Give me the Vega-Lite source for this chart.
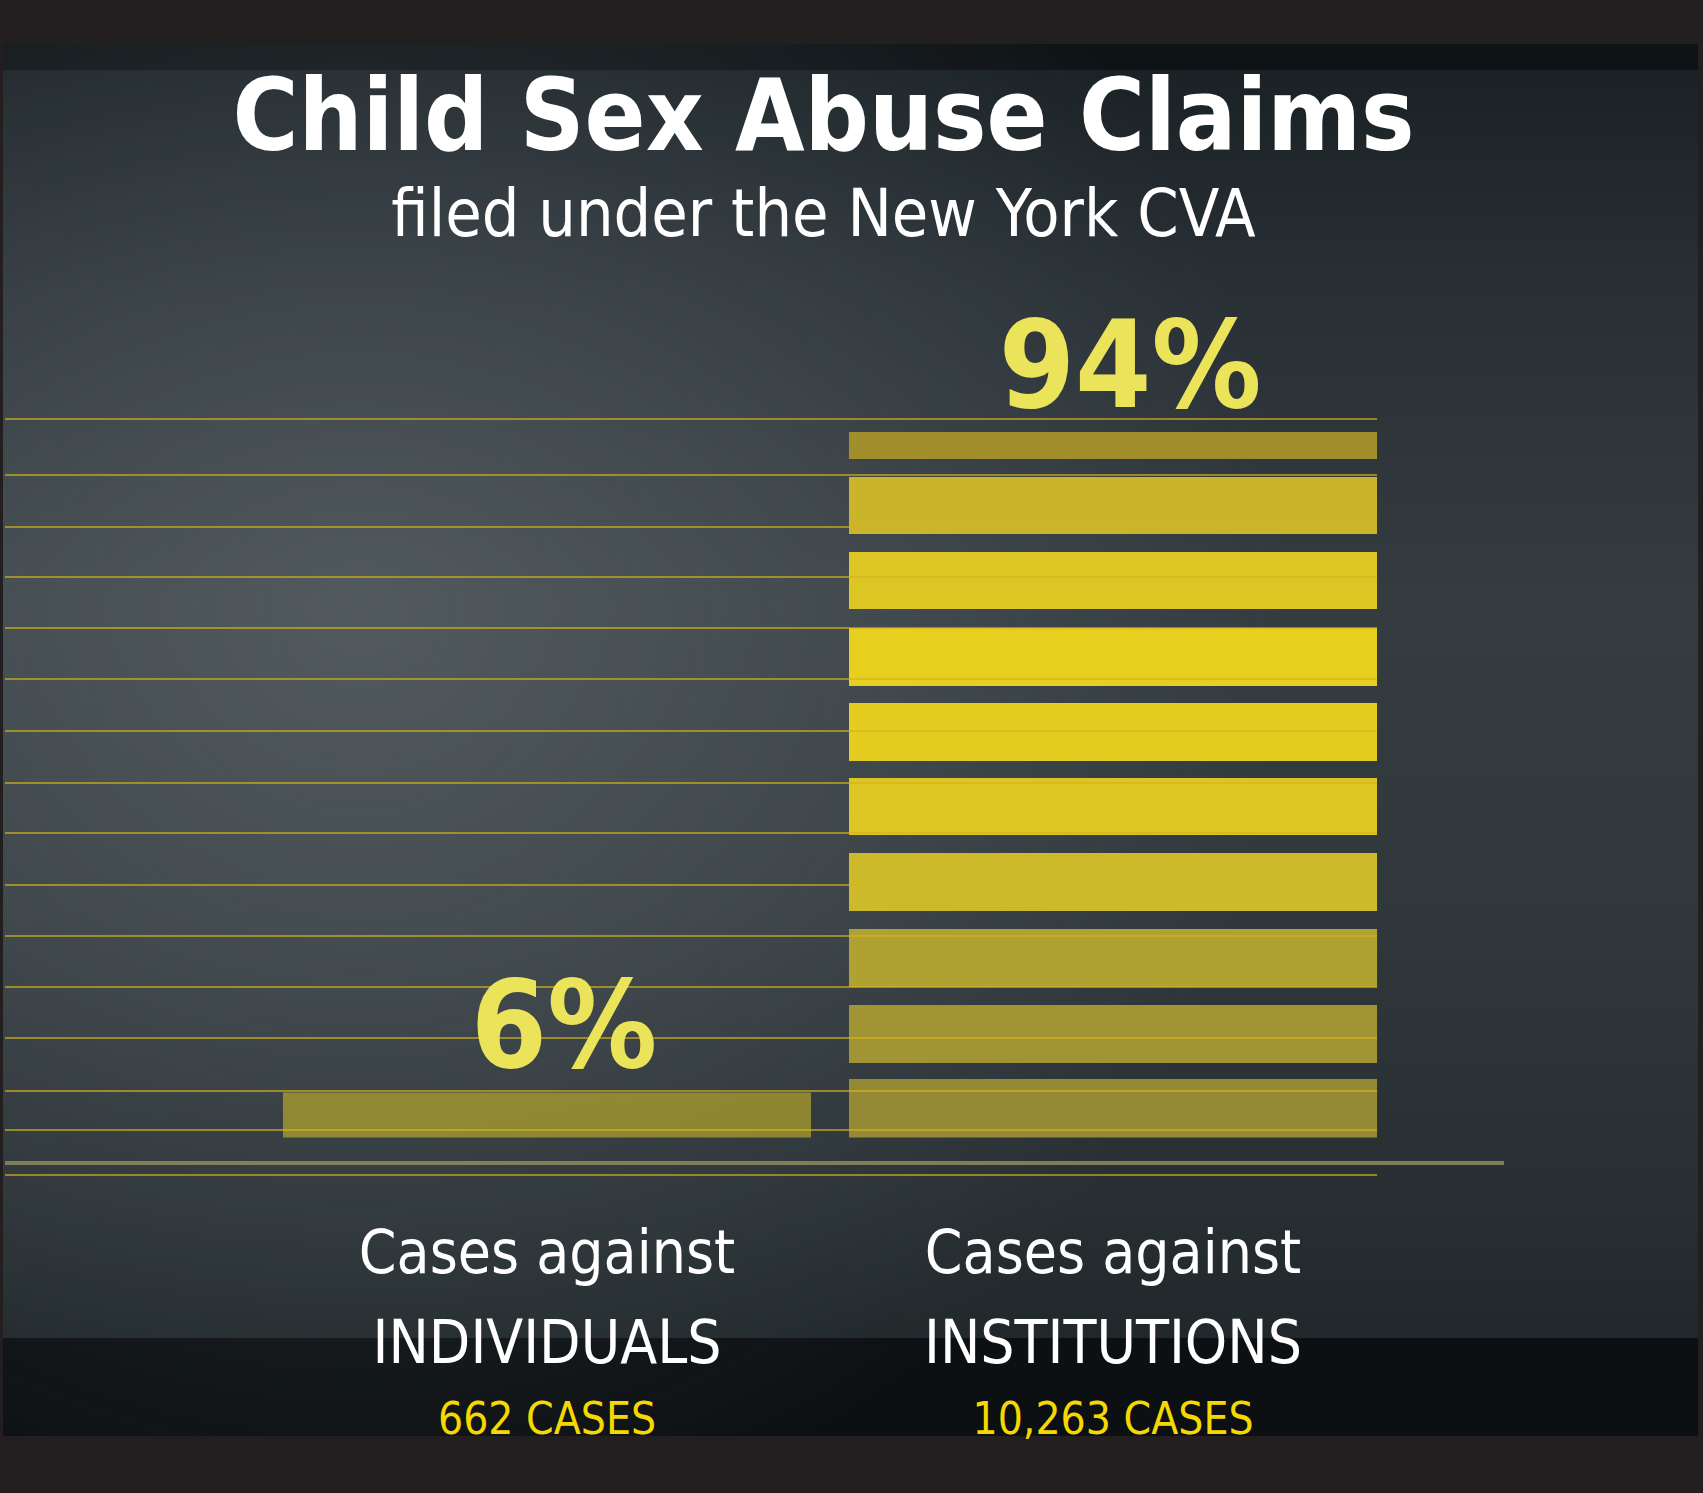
{
  "$schema": "https://vega.github.io/schema/vega-lite/v6.json",
  "width": 1695,
  "height": 1392,
  "autosize": {"type": "none"},
  "padding": {"left": 3, "top": 44, "right": 5, "bottom": 57},
  "background": "#231f20",
  "view": {"stroke": null, "fill": "#2a3236"},
  "title": {
    "text": "Child Sex Abuse Claims",
    "subtitle": "filed under the New York CVA",
    "anchor": "middle",
    "frame": "group",
    "font": "DejaVu Sans Condensed",
    "fontWeight": "bold",
    "fontSize": 100,
    "color": "#ffffff",
    "subtitleFont": "DejaVu Sans Condensed",
    "subtitleFontWeight": "normal",
    "subtitleFontSize": 66,
    "subtitleColor": "#ffffff",
    "subtitlePadding": 13,
    "offset": -206,
    "dx": -27
  },
  "datasets": {
    "claims": [
      {"target": "INDIVIDUALS", "pct": 6, "cases": 662},
      {"target": "INSTITUTIONS", "pct": 94, "cases": 10263}
    ],
    "gridlines": [
      {"level": 95.74}, {"level": 88.27}, {"level": 81.35}, {"level": 74.68},
      {"level": 67.89}, {"level": 61.09}, {"level": 54.16}, {"level": 47.24},
      {"level": 40.57}, {"level": 33.64}, {"level": 26.85}, {"level": 20.05},
      {"level": 13.26}, {"level": 6.2}, {"level": 1.0}, {"level": -5.0}
    ]
  },
  "data": {"name": "claims"},
  "layer": [
    {
      "data": {"values": [{}]},
      "mark": {
        "type": "rect", "x": 0, "x2": "width", "y": 0, "y2": "height",
        "color": {
          "gradient": "linear", "x1": 0, "y1": 0, "x2": 0, "y2": 1,
          "stops": [
            {"offset": 0, "color": "#0e1316"},
            {"offset": 0.0187, "color": "#0e1316"},
            {"offset": 0.0187, "color": "#1a2226"},
            {"offset": 0.18, "color": "#283035"},
            {"offset": 0.4, "color": "#343c40"},
            {"offset": 0.62, "color": "#30383c"},
            {"offset": 0.83, "color": "#272f33"},
            {"offset": 0.9296, "color": "#20282b"},
            {"offset": 0.9296, "color": "#0c1012"},
            {"offset": 1, "color": "#0c1012"}
          ]
        }
      },
      "encoding": {}
    },
    {
      "data": {"values": [{"glow": 1}]},
      "mark": {
        "type": "rect", "x": 0, "x2": "width", "y": 0, "y2": "height",
        "color": {
          "gradient": "radial", "x1": 0.21, "y1": 0.43, "r1": 0, "x2": 0.21, "y2": 0.43, "r2": 0.55,
          "stops": [
            {"offset": 0, "color": "rgba(170,180,186,0.25)"},
            {"offset": 0.5, "color": "rgba(170,180,186,0.13)"},
            {"offset": 1, "color": "rgba(170,180,186,0)"}
          ]
        }
      },
      "encoding": {}
    },
    {
      "transform": [{"filter": "datum.target === 'INDIVIDUALS'"}],
      "mark": {"type": "bar", "color": "#e8d020", "opacity": 0.5},
      "encoding": {
        "x": {
          "field": "target", "type": "nominal", "axis": null, "sort": null,
          "scale": {"domain": ["INDIVIDUALS", "INSTITUTIONS"], "paddingInner": 0.0671, "paddingOuter": 0.5309, "align": 0.4659}
        },
        "y": {"field": "pct", "type": "quantitative", "axis": null, "scale": {"domain": [-39.77, 145.7], "nice": false, "zero": false}}
      }
    },
    {
      "transform": [{"filter": "datum.target === 'INSTITUTIONS'"}],
      "mark": {
        "type": "bar",
        "color": {
          "gradient": "linear", "x1": 0, "y1": 0, "x2": 0, "y2": 1,
          "stops": [
            {"offset": 0, "color": "#a08e2c"},
            {"offset": 0.0382, "color": "#a08e2c"},
            {"offset": 0.0382, "color": "rgba(0,0,0,0)"},
            {"offset": 0.0637, "color": "rgba(0,0,0,0)"},
            {"offset": 0.0637, "color": "#c9b42a"},
            {"offset": 0.1445, "color": "#c9b42a"},
            {"offset": 0.1445, "color": "rgba(0,0,0,0)"},
            {"offset": 0.17, "color": "rgba(0,0,0,0)"},
            {"offset": 0.17, "color": "#dcc624"},
            {"offset": 0.2507, "color": "#dcc624"},
            {"offset": 0.2507, "color": "rgba(0,0,0,0)"},
            {"offset": 0.2776, "color": "rgba(0,0,0,0)"},
            {"offset": 0.2776, "color": "#e6cf1f"},
            {"offset": 0.3598, "color": "#e6cf1f"},
            {"offset": 0.3598, "color": "rgba(0,0,0,0)"},
            {"offset": 0.3839, "color": "rgba(0,0,0,0)"},
            {"offset": 0.3839, "color": "#e4cd20"},
            {"offset": 0.466, "color": "#e4cd20"},
            {"offset": 0.466, "color": "rgba(0,0,0,0)"},
            {"offset": 0.4901, "color": "rgba(0,0,0,0)"},
            {"offset": 0.4901, "color": "#dcc624"},
            {"offset": 0.5708, "color": "#dcc624"},
            {"offset": 0.5708, "color": "rgba(0,0,0,0)"},
            {"offset": 0.5963, "color": "rgba(0,0,0,0)"},
            {"offset": 0.5963, "color": "#ccba2a"},
            {"offset": 0.6785, "color": "#ccba2a"},
            {"offset": 0.6785, "color": "rgba(0,0,0,0)"},
            {"offset": 0.704, "color": "rgba(0,0,0,0)"},
            {"offset": 0.704, "color": "#b0a232"},
            {"offset": 0.7861, "color": "#b0a232"},
            {"offset": 0.7861, "color": "rgba(0,0,0,0)"},
            {"offset": 0.8116, "color": "rgba(0,0,0,0)"},
            {"offset": 0.8116, "color": "#a09434"},
            {"offset": 0.8938, "color": "#a09434"},
            {"offset": 0.8938, "color": "rgba(0,0,0,0)"},
            {"offset": 0.9164, "color": "rgba(0,0,0,0)"},
            {"offset": 0.9164, "color": "#948a36"},
            {"offset": 1, "color": "#948a36"}
          ]
        }
      },
      "encoding": {
        "x": {"field": "target", "type": "nominal", "axis": null, "sort": null},
        "y": {"field": "pct", "type": "quantitative", "axis": null}
      }
    },
    {
      "data": {"name": "gridlines"},
      "transform": [
        {"calculate": "'INDIVIDUALS'", "as": "from"},
        {"calculate": "'INSTITUTIONS'", "as": "to"}
      ],
      "mark": {"type": "rule", "color": "#d4b41c", "strokeWidth": 1.5, "opacity": 0.85},
      "encoding": {
        "y": {"field": "level", "type": "quantitative", "axis": null},
        "x": {"field": "from", "type": "nominal", "axis": null, "bandPosition": -0.5265},
        "x2": {"field": "to", "bandPosition": 1}
      }
    },
    {
      "data": {"values": [{"line": "baseline"}]},
      "transform": [
        {"calculate": "'INDIVIDUALS'", "as": "from"},
        {"calculate": "'INSTITUTIONS'", "as": "to"},
        {"calculate": "-3.4", "as": "level"}
      ],
      "mark": {"type": "rule", "color": "#8f8a62", "strokeWidth": 4, "opacity": 0.85},
      "encoding": {
        "y": {"field": "level", "type": "quantitative", "axis": null},
        "x": {"field": "from", "type": "nominal", "axis": null, "bandPosition": -0.5265},
        "x2": {"field": "to", "bandPosition": 1.2405}
      }
    },
    {
      "transform": [{"calculate": "datum.pct + '%'", "as": "pct_label"}],
      "mark": {"type": "text", "font": "DejaVu Sans Condensed", "fontWeight": "bold", "fontSize": 122, "color": "#ebe35a", "baseline": "alphabetic", "align": "center", "dy": -25, "dx": 17},
      "encoding": {
        "x": {"field": "target", "type": "nominal", "axis": null, "sort": null},
        "y": {"field": "pct", "type": "quantitative", "axis": null},
        "text": {"field": "pct_label"}
      }
    },
    {
      "mark": {"type": "text", "font": "DejaVu Sans Condensed", "fontSize": 60, "color": "#ffffff", "baseline": "alphabetic", "align": "center", "dy": 135.5},
      "encoding": {
        "x": {"field": "target", "type": "nominal", "axis": null, "sort": null},
        "y": {"datum": 0},
        "text": {"value": "Cases against"}
      }
    },
    {
      "mark": {"type": "text", "font": "DejaVu Sans Condensed", "fontSize": 60, "color": "#ffffff", "baseline": "alphabetic", "align": "center", "dy": 225.5},
      "encoding": {
        "x": {"field": "target", "type": "nominal", "axis": null, "sort": null},
        "y": {"datum": 0},
        "text": {"field": "target"}
      }
    },
    {
      "transform": [{"calculate": "format(datum.cases, ',') + ' CASES'", "as": "case_label"}],
      "mark": {"type": "text", "font": "DejaVu Sans Condensed", "fontSize": 44, "color": "#f5d800", "baseline": "alphabetic", "align": "center", "dy": 296.5},
      "encoding": {
        "x": {"field": "target", "type": "nominal", "axis": null, "sort": null},
        "y": {"datum": 0},
        "text": {"field": "case_label"}
      }
    }
  ]
}
